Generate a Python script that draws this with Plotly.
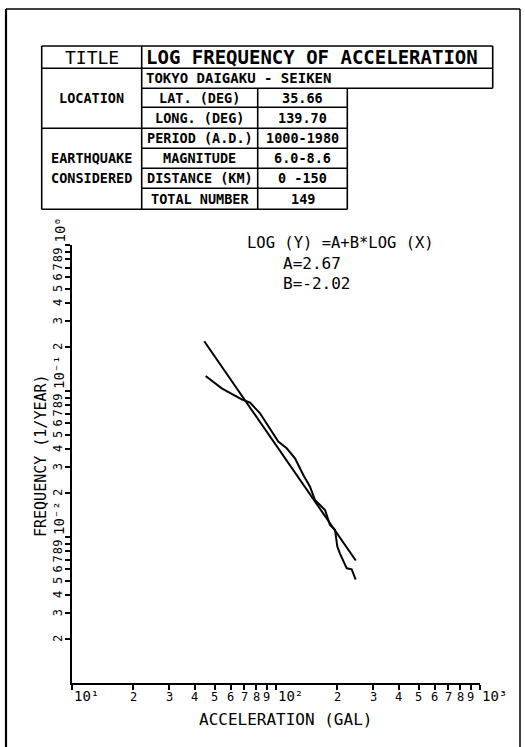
import math
import plotly.graph_objects as go

# ---------------- data ----------------
accel_obs = [45.2, 54.2, 67.9, 74.6, 83.5, 91.7, 102.6, 112.8, 123.9, 136.1,
             146.8, 155.3, 173.9, 183.9, 194.6, 199.8, 205.9, 222.2, 235.0, 245.9]
freq_obs = [0.1268, 0.1043, 0.0877, 0.0832, 0.0704, 0.0569, 0.0450, 0.0405, 0.0346, 0.0266,
            0.0221, 0.0179, 0.0153, 0.0121, 0.0112, 0.0086, 0.0077, 0.0061, 0.0060, 0.0051]
accel_fit = [44.5, 246.0]
freq_fit = [0.219, 0.0069]

x_minor_vals = [20, 30, 40, 50, 60, 70, 80, 90, 200, 300, 400, 500, 600, 700, 800, 900]
x_minor_text = ["2", "3", "4", "5", "6", "7", "8", "9"] * 2
x_major_vals = [10, 100, 1000]
x_major_text = ["10¹", "10²", "10³"]

y_minor_vals = [0.002, 0.003, 0.004, 0.005, 0.006, 0.007, 0.008, 0.009,
                0.02, 0.03, 0.04, 0.05, 0.06, 0.07, 0.08, 0.09,
                0.2, 0.3, 0.4, 0.5, 0.6, 0.7, 0.8, 0.9]
y_minor_text = ["2", "3", "4", "5", "6", "7", "8", "9"] * 3
y_major_vals = [0.01, 0.1, 1.0]
y_major_text = ["10⁻²", "10⁻¹", "10⁰"]

table_title = "LOG FREQUENCY OF ACCELERATION"
station = "TOKYO DAIGAKU - SEIKEN"
loc_labels = ["LAT. (DEG)", "LONG. (DEG)"]
loc_values = ["35.66", "139.70"]
eq_labels = ["PERIOD (A.D.)", "MAGNITUDE", "DISTANCE (KM)", "TOTAL NUMBER"]
eq_values = ["1000-1980", "6.0-8.6", "0 -150", "149"]
equation_lines = ["LOG (Y) =A+B*LOG (X)", "A=2.67", "B=-2.02"]

# ---------------- geometry helpers ----------------
W, H = 525, 747
L, R, T, B = 72, 480, 245, 683  # plot area in pixels
FONT = "DejaVu Sans Mono"


def px(xp):
    return (xp - L) / (R - L)


def py(yp):
    return (B - yp) / (B - T)


fig = go.Figure()
fig.add_trace(go.Scatter(x=accel_obs, y=freq_obs, mode="lines",
                         line=dict(color="black", width=2), showlegend=False))
fig.add_trace(go.Scatter(x=accel_fit, y=freq_fit, mode="lines",
                         line=dict(color="black", width=2), showlegend=False))

shapes = []


def hline(y, x0, x1, w=1.6):
    shapes.append(dict(type="line", xref="paper", yref="paper", x0=px(x0), x1=px(x1),
                       y0=py(y), y1=py(y), line=dict(color="black", width=w)))


def vline(x, y0, y1, w=1.6):
    shapes.append(dict(type="line", xref="paper", yref="paper", x0=px(x), x1=px(x),
                       y0=py(y0), y1=py(y1), line=dict(color="black", width=w)))


# outer frame
vline(6, 9, 760, 2.2)
vline(520, 9, 760, 1.5)
hline(9, 6, 520, 1.5)

# table
c0, c1, c2, c3, c4 = 41.7, 141.7, 257.7, 347.3, 492.7
rows = [46, 68.3, 88.3, 107.3, 128.3, 148.3, 168.3, 188.3, 209.3]
hline(rows[0], c0, c4)
hline(rows[1], c0, c4)
hline(rows[2], c1, c4)
hline(rows[3], c1, c3)
hline(rows[4], c0, c3)
hline(rows[5], c1, c3)
hline(rows[6], c1, c3)
hline(rows[7], c1, c3)
hline(rows[8], c0, c3)
vline(c0, rows[0], rows[8])
vline(c1, rows[0], rows[8])
vline(c2, rows[2], rows[8])
vline(c3, rows[2], rows[8])
vline(c4, rows[0], rows[2])

ann = []


def text(s, x, y, size=13.5, xanchor="center", bold=False, angle=0, yanchor="middle",
         xref="paper", yref="paper"):
    if bold:
        s = "<b>" + s + "</b>"
    ann.append(dict(text=s, x=x, y=y, xref=xref, yref=yref, showarrow=False,
                    xanchor=xanchor, yanchor=yanchor, textangle=angle,
                    font=dict(family=FONT, size=size, color="black")))


def rc(i):
    return py((rows[i] + rows[i + 1]) / 2)


mid01 = px((c0 + c1) / 2)
mid12 = px((c1 + c2) / 2)
mid23 = px((c2 + c3) / 2)

text("TITLE", mid01, rc(0), size=18)
text(table_title, px(144), rc(0), size=19, xanchor="left", bold=True)
text(station, px(144), rc(1), size=14, xanchor="left", bold=True)
text("LOCATION", mid01, py((rows[1] + rows[4]) / 2), bold=True)
for i, (lab, val) in enumerate(zip(loc_labels, loc_values)):
    text(lab, mid12, rc(2 + i), bold=True)
    text(val, mid23, rc(2 + i), bold=True)
text("EARTHQUAKE", mid01, rc(5), bold=True)
text("CONSIDERED", mid01, rc(6), bold=True)
for i, (lab, val) in enumerate(zip(eq_labels, eq_values)):
    text(lab, mid12, rc(4 + i), bold=True)
    text(val, mid23, rc(4 + i), bold=True)

# equation
text(equation_lines[0], px(245), py(243), size=15.5, xanchor="left")
text(equation_lines[1], px(281), py(263), size=16, xanchor="left")
text(equation_lines[2], px(281), py(283), size=16, xanchor="left")

# tick labels (placed on the axes' log scale)
for v, t in zip(x_minor_vals, x_minor_text):
    ann.append(dict(text=t, x=math.log10(v), xref="x", y=py(688), yref="paper",
                    showarrow=False, xanchor="center", yanchor="top",
                    font=dict(family=FONT, size=12, color="black")))
for v, t in zip(x_major_vals, x_major_text):
    ann.append(dict(text=t, x=math.log10(v), xref="x", y=py(686), yref="paper",
                    showarrow=False, xanchor="left", yanchor="top",
                    font=dict(family=FONT, size=14, color="black")))
for v, t in zip(y_minor_vals, y_minor_text):
    ann.append(dict(text=t, y=math.log10(v), yref="y", x=px(67), xref="paper",
                    showarrow=False, xanchor="right", yanchor="middle", textangle=-90,
                    font=dict(family=FONT, size=12, color="black")))
for v, t in zip(y_major_vals, y_major_text):
    ann.append(dict(text=t, y=math.log10(v), yref="y", x=px(69), xref="paper",
                    showarrow=False, xanchor="right", yanchor="bottom", textangle=-90,
                    font=dict(family=FONT, size=14, color="black")))

# axis titles
text("ACCELERATION (GAL)", px(285), py(719), size=16)
text("FREQUENCY (1/YEAR)", px(41), py(456), size=15, angle=-90)

fig.update_layout(
    width=W, height=H,
    margin=dict(l=L, r=W - R, t=T, b=H - B),
    paper_bgcolor="white", plot_bgcolor="white",
    shapes=shapes, annotations=ann,
    font=dict(family=FONT, color="black"),
    showlegend=False,
)
fig.update_xaxes(type="log", range=[1, 3], showgrid=False, zeroline=False,
                 showline=True, linecolor="black", linewidth=2,
                 ticks="outside", ticklen=5, tickwidth=1.5, tickcolor="black",
                 tickvals=x_minor_vals + x_major_vals, showticklabels=False)
fig.update_yaxes(type="log", range=[-3, 0], showgrid=False, zeroline=False,
                 showline=True, linecolor="black", linewidth=2,
                 ticks="outside", ticklen=5, tickwidth=1.5, tickcolor="black",
                 tickvals=y_minor_vals + y_major_vals, showticklabels=False)

fig.write_html("out.html", config={"displayModeBar": False},
               post_script="document.body.style.margin='0px';")
